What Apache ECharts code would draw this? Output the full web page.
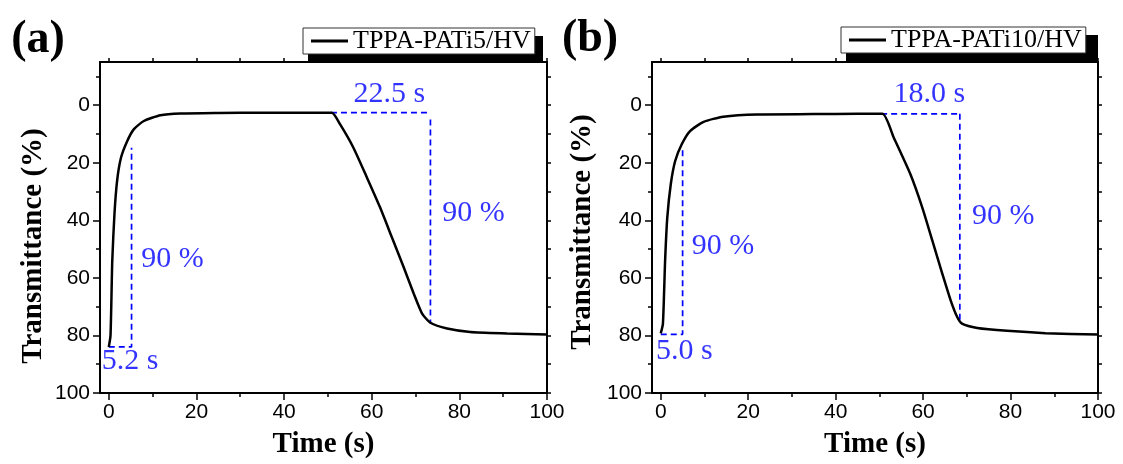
<!DOCTYPE html>
<html><head><meta charset="utf-8">
<script src="https://cdn.jsdelivr.net/npm/echarts@6/dist/echarts.min.js"></script>
<style>html,body{margin:0;padding:0;background:#fff}#c{width:1123px;height:464px}</style>
</head><body><div id="c"></div>
<script>
// ---------------- data ----------------
const panelLabels = ['(a)', '(b)'];
const seriesNames = ['TPPA-PATi5/HV', 'TPPA-PATi10/HV'];
const xTitle = 'Time (s)';
const yTitle = 'Transmittance (%)';
const xTickLabels = [0, 20, 40, 60, 80, 100];
const xMinorTicks = [10, 30, 50, 70, 90];
const xAllTicks = [0, 10, 20, 30, 40, 50, 60, 70, 80, 90, 100];
const yTickLabels = [0, 20, 40, 60, 80, 100];
const yMinorTicks = [-10, 10, 30, 50, 70, 90];
const yAllTicks = [-10, 0, 10, 20, 30, 40, 50, 60, 70, 80, 90, 100];

const timeA  = [0, 0.4, 0.8, 1.3, 1.9, 2.8, 4.2, 5.7, 8, 11.8, 16.4, 25, 35, 45, 50.9, 52.8, 55.8, 58.9, 61.9, 64.6, 67.3, 69.6, 71.5, 73.4, 77.2, 82.5, 90.9, 100];
const transA = [84, 80, 54, 37.8, 26.3, 18.2, 12.5, 8.4, 5.5, 3.5, 2.9, 2.7, 2.6, 2.6, 2.6, 6.7, 14.7, 25.1, 35.5, 45.9, 56.3, 65.5, 72.4, 75.6, 77.6, 78.8, 79.3, 79.7];
const timeB  = [0, 0.5, 1.0, 1.5, 2.3, 3.3, 4.8, 6.7, 9.8, 14.3, 22, 35, 45, 50.7, 53.3, 57.1, 59.8, 62.1, 64.4, 66.3, 67.8, 68.9, 72.4, 79.2, 88, 100];
const transB = [79.3, 75.9, 54, 39, 27.4, 19.4, 13.6, 9, 5.8, 4.0, 3.2, 3.1, 3.0, 3.0, 11.3, 24, 35.5, 47, 58.6, 67.8, 73.6, 75.9, 77.4, 78.4, 79.2, 79.7];

// guide (dashed) lines: [time, transmittance]
const guidesA = [
  [[0, 84], [5.2, 84], [5.2, 14.8]],
  [[50.7, 2.6], [73.4, 2.6]],
  [[73.4, 5.0], [73.4, 75.9]]
];
const guidesB = [
  [[0, 79.6], [5.0, 79.6], [5.0, 15.3]],
  [[50.4, 3.0], [68.4, 3.0]],
  [[68.4, 3.0], [68.4, 75.3]]
];
// annotations: [time, transmittance, text, align]
const notesA = [[64.0, -4, '22.5 s', 'center'], [76.1, 37.5, '90 %', 'left'], [7.4, 53.4, '90 %', 'left'], [-1.6, 89, '5.2 s', 'left']];
const notesB = [[61.4, -4, '18.0 s', 'center'], [71.2, 38.7, '90 %', 'left'], [7.1, 49, '90 %', 'left'], [-1.1, 85.4, '5.0 s', 'left']];

// ---------------- chart ----------------
const SERIF = '"Liberation Serif", "Times New Roman", serif';
const SANS = '"Liberation Sans", Arial, sans-serif';
const BLUE = '#0000ff';

const grids = [
  { left: 100, right: 576, top: 62, bottom: 69 },
  { left: 652, right: 25, top: 62, bottom: 69 }
];
const legendPos = [{ left: 303, top: 28 }, { left: 841, top: 27 }];
const legendShadow = [[308, 36, 235, 27], [846, 35, 252, 27]];
const yTitlePos = [[34, 246], [583, 232]];
const panelLabelPos = [[38, 40], [590, 39]];

const xAxes = [], yAxes = [], series = [], legends = [], graphics = [];
const lineW = 2;

[[timeA, transA, guidesA, notesA], [timeB, transB, guidesB, notesB]].forEach((p, g) => {
  const [t, tr, guides, notes] = p;
  const base = g * 3;
  xAxes.push(
    { type: 'value', gridIndex: g, position: 'bottom', min: -2, max: 100,
      axisLine: { show: true, onZero: false, lineStyle: { color: '#000', width: lineW } },
      axisTick: { show: true, inside: false, length: 7, customValues: xTickLabels, lineStyle: { color: '#000', width: 1.5 } },
      axisLabel: { show: true, customValues: xTickLabels, margin: 9, fontFamily: SANS, fontSize: 21, color: '#000' },
      splitLine: { show: false },
      name: xTitle, nameLocation: 'middle', nameGap: 37,
      nameTextStyle: { fontFamily: SERIF, fontWeight: 'bold', fontSize: 29, color: '#000' } },
    { type: 'value', gridIndex: g, position: 'bottom', min: -2, max: 100,
      axisLine: { show: false, onZero: false },
      axisTick: { show: true, inside: false, length: 4, customValues: xMinorTicks, lineStyle: { color: '#000', width: 1.5 } },
      axisLabel: { show: false }, splitLine: { show: false } },
    { type: 'value', gridIndex: g, position: 'top', min: -2, max: 100,
      axisLine: { show: true, onZero: false, lineStyle: { color: '#000', width: lineW } },
      axisTick: { show: true, inside: false, length: 4, customValues: xAllTicks, lineStyle: { color: '#000', width: 1.5 } },
      axisLabel: { show: false }, splitLine: { show: false } }
  );
  yAxes.push(
    { type: 'value', gridIndex: g, position: 'left', min: -15, max: 100, inverse: true,
      axisLine: { show: true, onZero: false, lineStyle: { color: '#000', width: lineW } },
      axisTick: { show: true, inside: false, length: 7, customValues: yTickLabels, lineStyle: { color: '#000', width: 1.5 } },
      axisLabel: { show: true, customValues: yTickLabels, margin: 10, fontFamily: SANS, fontSize: 21, color: '#000' },
      splitLine: { show: false } },
    { type: 'value', gridIndex: g, position: 'left', min: -15, max: 100, inverse: true,
      axisLine: { show: false, onZero: false },
      axisTick: { show: true, inside: false, length: 4, customValues: yMinorTicks, lineStyle: { color: '#000', width: 1.5 } },
      axisLabel: { show: false }, splitLine: { show: false } },
    { type: 'value', gridIndex: g, position: 'right', min: -15, max: 100, inverse: true,
      axisLine: { show: true, onZero: false, lineStyle: { color: '#000', width: lineW } },
      axisTick: { show: true, inside: false, length: 4, customValues: yAllTicks, lineStyle: { color: '#000', width: 1.5 } },
      axisLabel: { show: false }, splitLine: { show: false } }
  );
  series.push({
    type: 'line', name: seriesNames[g], xAxisIndex: base, yAxisIndex: base,
    data: t.map((v, i) => [v, tr[i]]),
    symbol: 'none', showSymbol: false, smooth: 0.2,
    lineStyle: { color: '#000', width: 2.5 }, itemStyle: { color: '#000' }, z: 3
  });
  guides.forEach(gd => series.push({
    type: 'line', xAxisIndex: base, yAxisIndex: base, data: gd, symbol: 'none', silent: true,
    lineStyle: { color: BLUE, width: 1.7, type: [6, 4] }, z: 2
  }));
  series.push({
    type: 'scatter', xAxisIndex: base, yAxisIndex: base, symbolSize: 0, silent: true, clip: false,
    data: notes.map(n => ({ value: [n[0], n[1]], label: { formatter: n[2], align: n[3] } })),
    label: { show: true, position: 'inside', verticalAlign: 'middle', color: BLUE, fontFamily: SERIF, fontSize: 30 }
  });
  legends.push({
    data: [seriesNames[g]], left: legendPos[g].left, top: legendPos[g].top, orient: 'horizontal',
    selectedMode: false, icon: 'rect', itemWidth: 37, itemHeight: 3,
    backgroundColor: '#fff', borderColor: '#333', borderWidth: 1, borderRadius: 0,
    padding: [0, 4, 0, 8], z: 10,
    textStyle: { fontFamily: SERIF, fontSize: 26, lineHeight: 26, color: '#000' }
  });
  const s = legendShadow[g];
  graphics.push({
    type: 'rect', z: 1, silent: true,
    shape: { x: s[0], y: s[1], width: s[2], height: s[3] },
    style: { fill: '#000' }
  });
  graphics.push({
    type: 'text', x: yTitlePos[g][0], y: yTitlePos[g][1], rotation: Math.PI / 2,
    style: { text: yTitle, font: 'bold 29px ' + SERIF, fill: '#000', align: 'center', verticalAlign: 'middle', textAlign: 'center', textVerticalAlign: 'middle' }
  });
  graphics.push({
    type: 'text', x: panelLabelPos[g][0], y: panelLabelPos[g][1],
    style: { text: panelLabels[g], font: 'bold 46px ' + SERIF, fill: '#000', align: 'center', verticalAlign: 'middle', textAlign: 'center', textVerticalAlign: 'middle' }
  });
});

const chart = echarts.init(document.getElementById('c'), null, { renderer: 'canvas' });
chart.setOption({
  animation: false,
  backgroundColor: '#fff',
  grid: grids,
  xAxis: xAxes,
  yAxis: yAxes,
  legend: legends,
  series: series,
  graphic: graphics
});
</script></body></html>
